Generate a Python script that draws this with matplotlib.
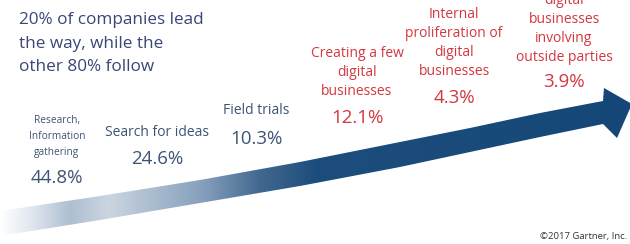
import numpy as np
import matplotlib
matplotlib.use("Agg")
import matplotlib.pyplot as plt
from matplotlib.colors import LinearSegmentedColormap
from matplotlib.patches import Polygon

# stages along the arrow and share of companies in each
stages = ["Research,\nInformation\ngathering", "Search for ideas", "Field trials",
          "Creating a few\ndigital\nbusinesses", "Internal\nproliferation of\ndigital\nbusinesses",
          "digital\nbusinesses\ninvolving\noutside parties"]
shares = [44.8, 24.6, 10.3, 12.1, 4.3, 3.9]
leaders = [False, False, False, True, True, True]   # the 20% that lead

title = "20% of companies lead\nthe way, while the\nother 80% follow"
credit = "\u00a92017 Gartner, Inc."

# layout (pixel coords, y down): label anchor x, label bottom y, percent centre y
label_x = [57, 157, 256, 357, 454, 564]
label_bottom = [158, 140, 118, 99, 79, 65]
pct_y = [178, 159, 139, 118, 98, 82]
label_size = [7.3, 10, 10, 10, 10, 10]
label_spacing = [1.62, 1.0, 1.0, 1.36, 1.36, 1.36]

BLUE_TXT = "#3d5476"
RED_TXT = "#d2383f"
FONT = "Open Sans"

fig = plt.figure(figsize=(6.3, 2.44), dpi=100)
ax = fig.add_axes([0, 0, 1, 1])
ax.set_xlim(0, 630)
ax.set_ylim(244, 0)
ax.axis("off")

# arrow body: smooth top / bottom edges, then arrowhead
xs = np.linspace(0, 603, 60)
top_y = np.interp(xs, [0, 100, 200, 300, 400, 470, 540, 603], [211, 196, 180, 162, 142, 128, 113, 101])
bot_y = np.interp(xs, [0, 100, 200, 300, 400, 470, 540, 603], [236, 220, 203, 186, 167, 152, 137, 124])
head = [(604, 88), (632, 104), (617, 138)]
pts = list(zip(xs, top_y)) + head + list(zip(xs[::-1], bot_y[::-1]))
band = Polygon(pts, closed=True, facecolor="none", edgecolor="none")
ax.add_patch(band)

cmap = LinearSegmentedColormap.from_list("arrow", [
    (0.0, "#ffffff"), (0.05, "#dfe6ee"), (0.11, "#aebfd2"), (0.17, "#cbd5e0"),
    (0.32, "#86a0bd"), (0.41, "#43688f"), (0.5, "#1d4d7d"), (1.0, "#144777")])
grad = np.linspace(0, 1, 512)[None, :]
im = ax.imshow(grad, cmap=cmap, extent=[0, 632, 244, 0], aspect="auto", interpolation="bilinear")
im.set_clip_path(band)

# title
ax.text(19, 12, title, ha="left", va="top", fontsize=12.3, color="#3a4677",
        family=FONT, linespacing=1.64)

for lab, val, x, yb, yp, fs, ls, red in zip(stages, shares, label_x, label_bottom, pct_y,
                                             label_size, label_spacing, leaders):
    c = RED_TXT if red else BLUE_TXT
    ax.text(x, yb, lab, ha="center", va="bottom", fontsize=fs, color=c, family=FONT,
            linespacing=ls)
    ax.text(x, yp, f"{val:.1f}%", ha="center", va="center", fontsize=13.5, color=c, family=FONT)

ax.text(627, 237, credit, ha="right", va="center", fontsize=6.8, color="#333333", family=FONT)

fig.savefig("out.png", dpi=100)
